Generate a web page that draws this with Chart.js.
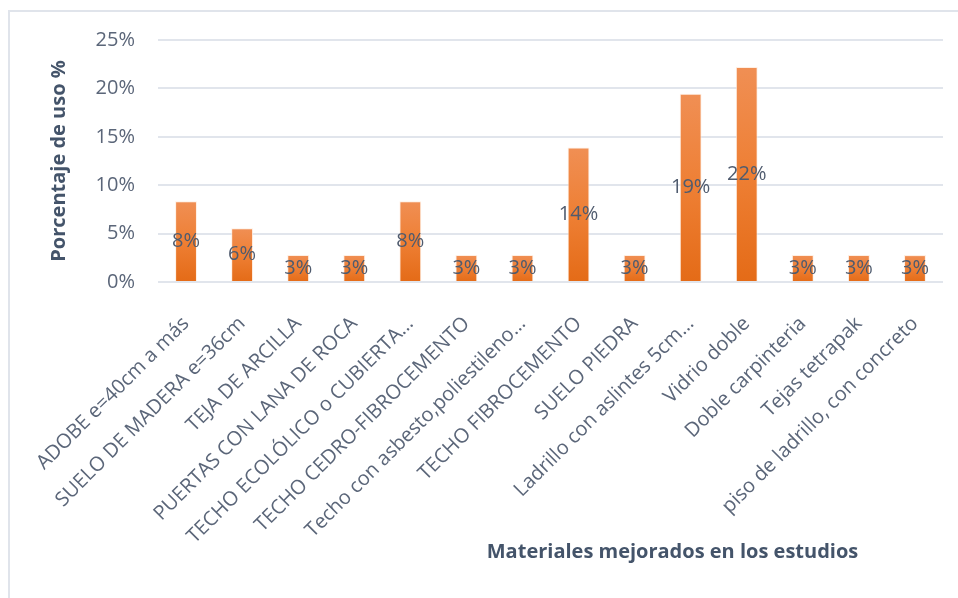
<!DOCTYPE html>
<html>
<head>
<meta charset="utf-8">
<title>Materiales mejorados</title>
<script src="https://cdn.jsdelivr.net/npm/chart.js@4"></script>
<style>
    html, body { margin: 0; padding: 0; background: #fff; }
    #wrap { position: relative; width: 958px; height: 598px; }
</style>
</head>
<body>
<div id="wrap"><canvas id="materialesChart"></canvas></div>
<script>
// materials and share of use (%) over the 36 studies
const materiales = [
    'ADOBE e=40cm a más',
    'SUELO DE MADERA e=36cm',
    'TEJA DE ARCILLA',
    'PUERTAS CON LANA DE ROCA',
    'TECHO ECOLÓLICO o CUBIERTA…',
    'TECHO CEDRO-FIBROCEMENTO',
    'Techo con asbesto,poliestileno…',
    'TECHO FIBROCEMENTO',
    'SUELO PIEDRA',
    'Ladrillo con aslintes 5cm…',
    'Vidrio doble',
    'Doble carpinteria',
    'Tejas tetrapak',
    'piso de ladrillo, con concreto'
];
const porcentajes = [8.33, 5.56, 2.78, 2.78, 8.33, 2.78, 2.78, 13.89, 2.78, 19.44, 22.22, 2.78, 2.78, 2.78];
const yTicks = [0, 5, 10, 15, 20, 25];

const textColor = '#5b6679';
const titleColor = '#44546a';
const gridColor = '#e1e5ec';

Chart.defaults.font.family = '"Open Sans", sans-serif';
Chart.defaults.color = textColor;

// light border on the left and top of the chart box
const frame = {
    id: 'frame',
    beforeDraw(chart) {
        const ctx = chart.ctx;
        ctx.save();
        ctx.strokeStyle = '#e0e4eb';
        ctx.lineWidth = 2;
        ctx.beginPath();
        ctx.moveTo(9, chart.height);
        ctx.lineTo(9, 11);
        ctx.lineTo(chart.width, 11);
        ctx.stroke();
        ctx.restore();
    }
};

// value labels in the middle of each bar
const barLabels = {
    id: 'barLabels',
    afterDatasetsDraw(chart) {
        const ctx = chart.ctx;
        const meta = chart.getDatasetMeta(0);
        ctx.save();
        ctx.font = '20px "Open Sans"';
        ctx.fillStyle = '#4f5b6e';
        ctx.textAlign = 'center';
        ctx.textBaseline = 'middle';
        meta.data.forEach((bar, i) => {
            ctx.fillText(Math.round(porcentajes[i]) + '%', bar.x, (bar.y + bar.base) / 2);
        });
        ctx.restore();
    }
};

// x axis title, sits right of centre
const xTitle = {
    id: 'xTitle',
    afterDraw(chart) {
        const ctx = chart.ctx;
        const area = chart.chartArea;
        ctx.save();
        ctx.font = 'bold 20px "Open Sans"';
        ctx.fillStyle = titleColor;
        ctx.textAlign = 'center';
        ctx.textBaseline = 'middle';
        ctx.fillText('Materiales mejorados en los estudios', (area.left + area.right) / 2 + 122, 552);
        ctx.restore();
    }
};

function barGradient(context) {
    const chart = context.chart;
    const y = chart.scales.y;
    if (!chart.chartArea || !y || context.type !== 'data') return '#ec7c30';
    const top = y.getPixelForValue(context.raw);
    const base = y.getPixelForValue(0);
    const g = chart.ctx.createLinearGradient(0, top, 0, base);
    g.addColorStop(0, '#f08f54');
    g.addColorStop(0.5, '#ee7f34');
    g.addColorStop(1, '#e46b17');
    return g;
}

new Chart(document.getElementById('materialesChart'), {
    type: 'bar',
    data: {
        labels: materiales,
        datasets: [{
            data: porcentajes,
            backgroundColor: barGradient,
            borderColor: 'rgba(255, 235, 220, 0.8)',
            borderWidth: 1,
            barPercentage: 0.39,
            categoryPercentage: 1
        }]
    },
    options: {
        responsive: true,
        maintainAspectRatio: false,
        animation: false,
        layout: { padding: { top: 40, right: 15, bottom: 0, left: 0 } },
        plugins: {
            legend: { display: false },
            tooltip: { enabled: false }
        },
        scales: {
            x: {
                grid: { display: false },
                border: { display: false },
                ticks: {
                    autoSkip: false,
                    maxRotation: 45,
                    minRotation: 45,
                    padding: 22,
                    color: textColor,
                    font: { size: 20 }
                },
                afterFit(scale) { scale.height = 316; }
            },
            y: {
                min: 0,
                max: 25,
                afterBuildTicks(scale) {
                    scale.ticks = yTicks.map(v => ({ value: v }));
                },
                grid: { color: gridColor, lineWidth: 2, drawTicks: false },
                border: { display: false },
                ticks: {
                    padding: 23,
                    color: textColor,
                    font: { size: 20 },
                    callback: v => v + '%'
                },
                title: {
                    display: true,
                    text: 'Porcentaje de uso %',
                    color: titleColor,
                    font: { size: 20, weight: 'bold' },
                    padding: { top: 47, bottom: 0 }
                },
                afterFit(scale) { scale.width = 158; }
            }
        }
    },
    plugins: [frame, barLabels, xTitle]
});
</script>
</body>
</html>
